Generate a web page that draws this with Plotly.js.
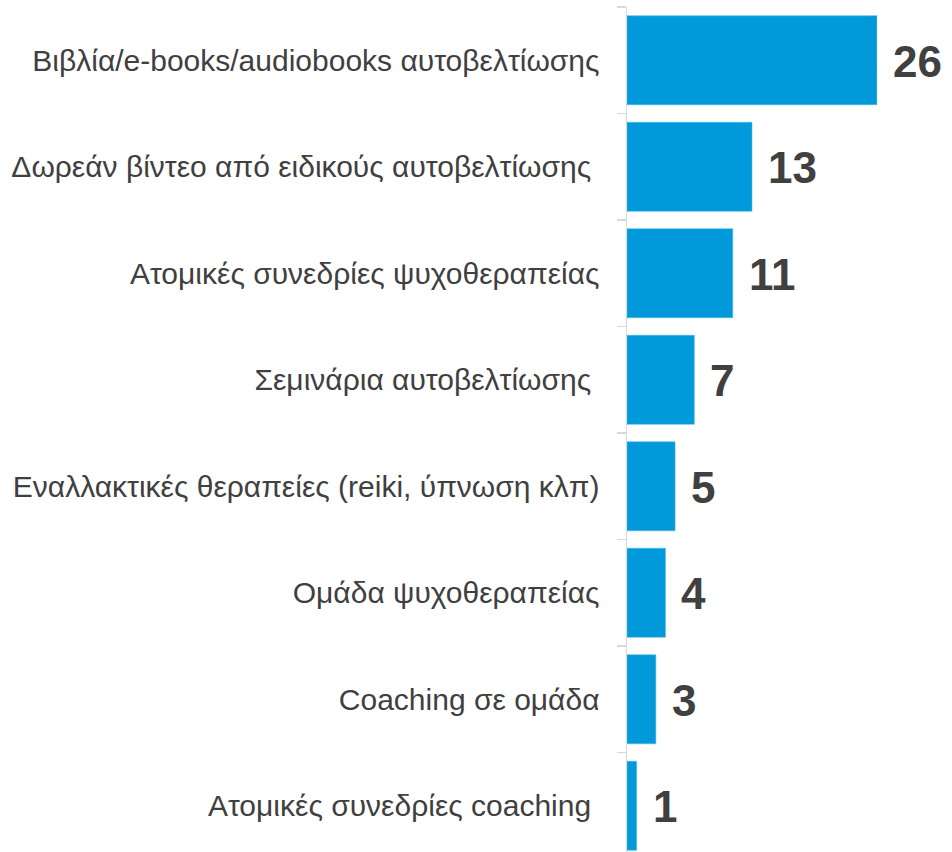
<!DOCTYPE html>
<html>
<head>
<meta charset="utf-8">
<script src="https://cdn.plot.ly/plotly-3.0.1.min.js"></script>
<style>html,body{margin:0;padding:0;background:#fff;}#chart{width:952px;height:852px;}</style>
</head>
<body>
<div id="chart"></div>
<script>
const categories = [
  "Βιβλία/e-books/audiobooks αυτοβελτίωσης",
  "Δωρεάν βίντεο από ειδικούς αυτοβελτίωσης\u00a0",
  "Ατομικές συνεδρίες ψυχοθεραπείας",
  "Σεμινάρια αυτοβελτίωσης\u00a0",
  "Εναλλακτικές θεραπείες (reiki, ύπνωση κλπ)",
  "Ομάδα ψυχοθεραπείας",
  "Coaching σε ομάδα",
  "Ατομικές συνεδρίες coaching\u00a0"
];
const values = [26, 13, 11, 7, 5, 4, 3, 1];
const valueLabels = ["26", "13", "11", "7", "5", "4", "3", "1"];

const trace = {
  type: "bar",
  orientation: "h",
  x: values,
  y: categories,
  marker: {color: "#009ADA", line: {color: "#4DB8E8", width: 0.6}},
  hoverinfo: "skip"
};

const annotations = values.map((v, i) => ({
  x: v, y: categories[i], xref: "x", yref: "y",
  text: valueLabels[i], showarrow: false,
  xanchor: "left", yanchor: "middle", xshift: 14, yshift: -1,
  font: {family: "Liberation Sans, Arial, sans-serif", size: 44, color: "#404040", weight: "bold"}
}));

const layout = {
  width: 952, height: 852,
  margin: {l: 627, r: 75, t: 7, b: 0, pad: 0},
  paper_bgcolor: "#fff", plot_bgcolor: "#fff",
  showlegend: false,
  bargap: 0.164,
  xaxis: {range: [0, 26], visible: false, fixedrange: true},
  yaxis: {
    type: "category",
    categoryorder: "array", categoryarray: categories,
    range: [7.434, -0.5],
    showline: true, linecolor: "#d9d9d9", linewidth: 1.5,
    ticks: "outside", ticklen: 9, tickcolor: "#d9d9d9", tickwidth: 1.5,
    tickson: "boundaries",
    showgrid: false, zeroline: false,
    ticklabelstandoff: 20,
    tickfont: {family: "Liberation Sans, Arial, sans-serif", size: 30, color: "#404040"},
    automargin: false
  },
  annotations: annotations
};

Plotly.newPlot("chart", [trace], layout, {displayModeBar: false, staticPlot: true});
</script>
</body>
</html>
